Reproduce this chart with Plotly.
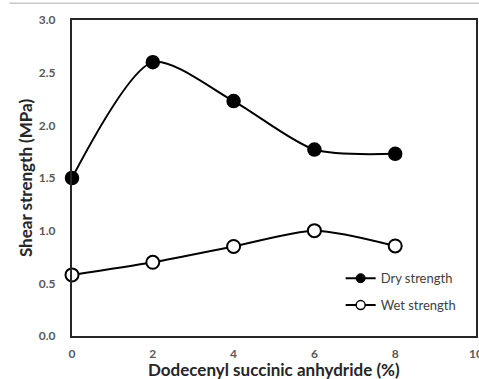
import plotly.graph_objects as go

# DDSA content (%) and adhesive shear strength (MPa)
ddsa_pct = [0, 2, 4, 6, 8]
dry_strength = [1.50, 2.60, 2.23, 1.77, 1.73]
wet_strength = [0.58, 0.70, 0.85, 1.00, 0.855]

x_ticks = [0, 2, 4, 6, 8, 10]
y_ticks = [0.0, 0.5, 1.0, 1.5, 2.0, 2.5, 3.0]

FONT = "Lato"
LINE = dict(color="black", width=2, shape="spline", smoothing=0.75)

fig = go.Figure()
fig.add_trace(go.Scatter(
    x=ddsa_pct, y=dry_strength, name="Dry strength",
    mode="lines+markers", line=LINE, showlegend=False,
    marker=dict(symbol="circle", size=13, color="black",
                line=dict(color="black", width=1.5)),
    cliponaxis=False,
))
fig.add_trace(go.Scatter(
    x=ddsa_pct, y=wet_strength, name="Wet strength",
    mode="lines+markers", line=LINE, showlegend=False,
    marker=dict(symbol="circle", size=13, color="white",
                line=dict(color="black", width=2)),
    cliponaxis=False,
))

# legend entries with smaller key markers
fig.add_trace(go.Scatter(
    x=[None], y=[None], name="Dry strength", mode="lines+markers",
    legendgroup="dry",
    line=dict(color="black", width=2),
    marker=dict(symbol="circle", size=9, color="black",
                line=dict(color="black", width=1)),
))
fig.add_trace(go.Scatter(
    x=[None], y=[None], name="Wet strength", mode="lines+markers",
    legendgroup="wet",
    line=dict(color="black", width=2),
    marker=dict(symbol="circle", size=9, color="white",
                line=dict(color="black", width=1.5)),
))

fig.update_layout(
    width=479, height=379,
    margin=dict(l=72, r=3, t=20, b=43),
    paper_bgcolor="white", plot_bgcolor="white",
    font=dict(family=FONT, color="#595959"),
    showlegend=True,
    legend=dict(
        x=0.665, y=0.14, xanchor="left", yanchor="middle",
        bgcolor="rgba(0,0,0,0)", borderwidth=0,
        font=dict(family=FONT, size=13, color="#404040"),
        itemwidth=30, tracegroupgap=7,
    ),
    xaxis=dict(
        range=[0, 10], tickvals=x_ticks, ticktext=[str(v) for v in x_ticks],
        showgrid=False, zeroline=False, automargin=False,
        showline=True, linecolor="#262626", linewidth=2, mirror=True,
        ticks="", tickfont=dict(family=FONT, size=12, color="#595959", weight="bold"),
        ticklabeloverflow="allow", ticklabelstandoff=6,
    ),
    yaxis=dict(
        range=[0, 3.0], tickvals=y_ticks, ticktext=[f"{v:.1f}" for v in y_ticks],
        showgrid=False, zeroline=False, automargin=False,
        showline=True, linecolor="#262626", linewidth=2, mirror=True,
        ticks="", tickfont=dict(family=FONT, size=12, color="#595959", weight="bold"),
        ticklabelstandoff=12,
        title=dict(text="<b>Shear strength (MPa)</b>",
                   font=dict(family=FONT, size=17, color="#262626"), standoff=2),
    ),
)

# x-axis title placed just under the tick labels
fig.add_annotation(
    text="<b>Dodecenyl succinic anhydride (%)</b>",
    xref="paper", yref="paper", x=0.5, y=-0.068,
    xanchor="center", yanchor="top", showarrow=False,
    font=dict(family=FONT, size=17, color="#262626"),
)

# thin rule along the top of the figure
fig.add_shape(type="line", xref="paper", yref="paper",
              x0=-0.155, x1=1.01, y0=1.053, y1=1.053,
              line=dict(color="#c8c8c8", width=1.5))

fig.write_html("out.html")
